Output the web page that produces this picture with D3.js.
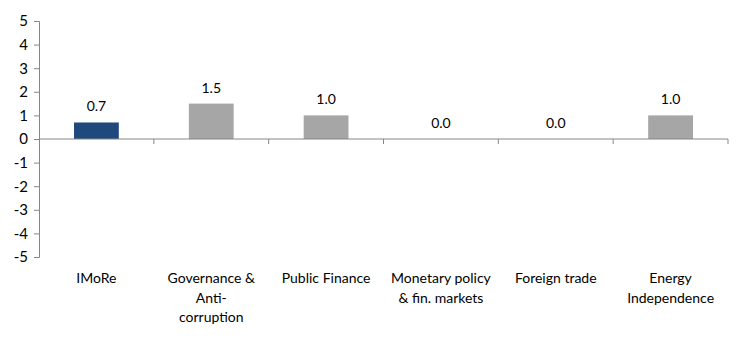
<!DOCTYPE html>
<html>
<head>
<meta charset="utf-8">
<script src="https://cdn.jsdelivr.net/npm/d3@7"></script>
<style>
  body { margin: 0; background: #fff; }
  text { font-family: Lato, "Open Sans", sans-serif; fill: #000; }
</style>
</head>
<body>
<svg id="chart"></svg>
<script>
const categories = ["IMoRe", "Governance &\nAnti-\ncorruption", "Public Finance",
    "Monetary policy\n& fin. markets", "Foreign trade", "Energy\nIndependence"];
const values = [0.7, 1.5, 1.0, 0.0, 0.0, 1.0];
const yTicks = [5, 4, 3, 2, 1, 0, -1, -2, -3, -4, -5];

const W = 740, H = 352;
const margin = { left: 39, right: 12, top: 21, bottom: 95 };

const svg = d3.select("#chart")
    .attr("width", W)
    .attr("height", H);

// scales
const x = d3.scaleBand()
    .domain(categories)
    .range([margin.left, W - margin.right])
    .paddingInner(0.61)
    .paddingOuter(0.305);

const y = d3.scaleLinear()
    .domain([-5, 5])
    .range([H - margin.bottom, margin.top]);

const axisColor = "#868686";

// y axis
const yAxis = svg.append("g")
    .attr("transform", `translate(${margin.left},0)`)
    .call(d3.axisLeft(y).tickValues(yTicks).tickSize(5).tickPadding(6).tickFormat(d => String(d)));
yAxis.select(".domain").attr("stroke", axisColor);
yAxis.selectAll(".tick line").attr("stroke", axisColor);
yAxis.selectAll("text").attr("font-size", 15).style("fill", "#000");

// bars
svg.append("g")
    .selectAll("rect")
    .data(values)
    .enter().append("rect")
    .attr("x", (d, i) => x(categories[i]))
    .attr("width", x.bandwidth())
    .attr("y", d => y(Math.max(0, d)))
    .attr("height", d => Math.abs(y(d) - y(0)))
    .attr("fill", (d, i) => i === 0 ? "#1F497D" : "#A6A6A6");

// value labels
svg.append("g")
    .selectAll("text")
    .data(values)
    .enter().append("text")
    .attr("x", (d, i) => x(categories[i]) + x.bandwidth() / 2)
    .attr("y", d => y(Math.max(0, d)) - 11)
    .attr("text-anchor", "middle")
    .attr("font-size", 14)
    .text(d => d.toFixed(1));

// x axis at zero
const step = x.step();
const x0 = margin.left, x1 = W - margin.right;
const xAxis = svg.append("g");
xAxis.append("line")
    .attr("x1", x0).attr("x2", x1)
    .attr("y1", y(0)).attr("y2", y(0))
    .attr("stroke", axisColor);
xAxis.selectAll("line.cat")
    .data(d3.range(1, categories.length + 1))
    .enter().append("line")
    .attr("class", "cat")
    .attr("x1", i => x0 + i * step).attr("x2", i => x0 + i * step)
    .attr("y1", y(0)).attr("y2", y(0) + 5)
    .attr("stroke", axisColor);

// category labels
const labels = svg.append("g")
    .selectAll("text")
    .data(categories)
    .enter().append("text")
    .attr("x", d => x(d) + x.bandwidth() / 2)
    .attr("y", 283)
    .attr("text-anchor", "middle")
    .attr("font-size", 14);
labels.each(function (d) {
    const t = d3.select(this);
    d.split("\n").forEach((line, k) => {
        t.append("tspan")
            .attr("x", t.attr("x"))
            .attr("dy", k === 0 ? 0 : 19.5)
            .text(line);
    });
});
</script>
</body>
</html>
